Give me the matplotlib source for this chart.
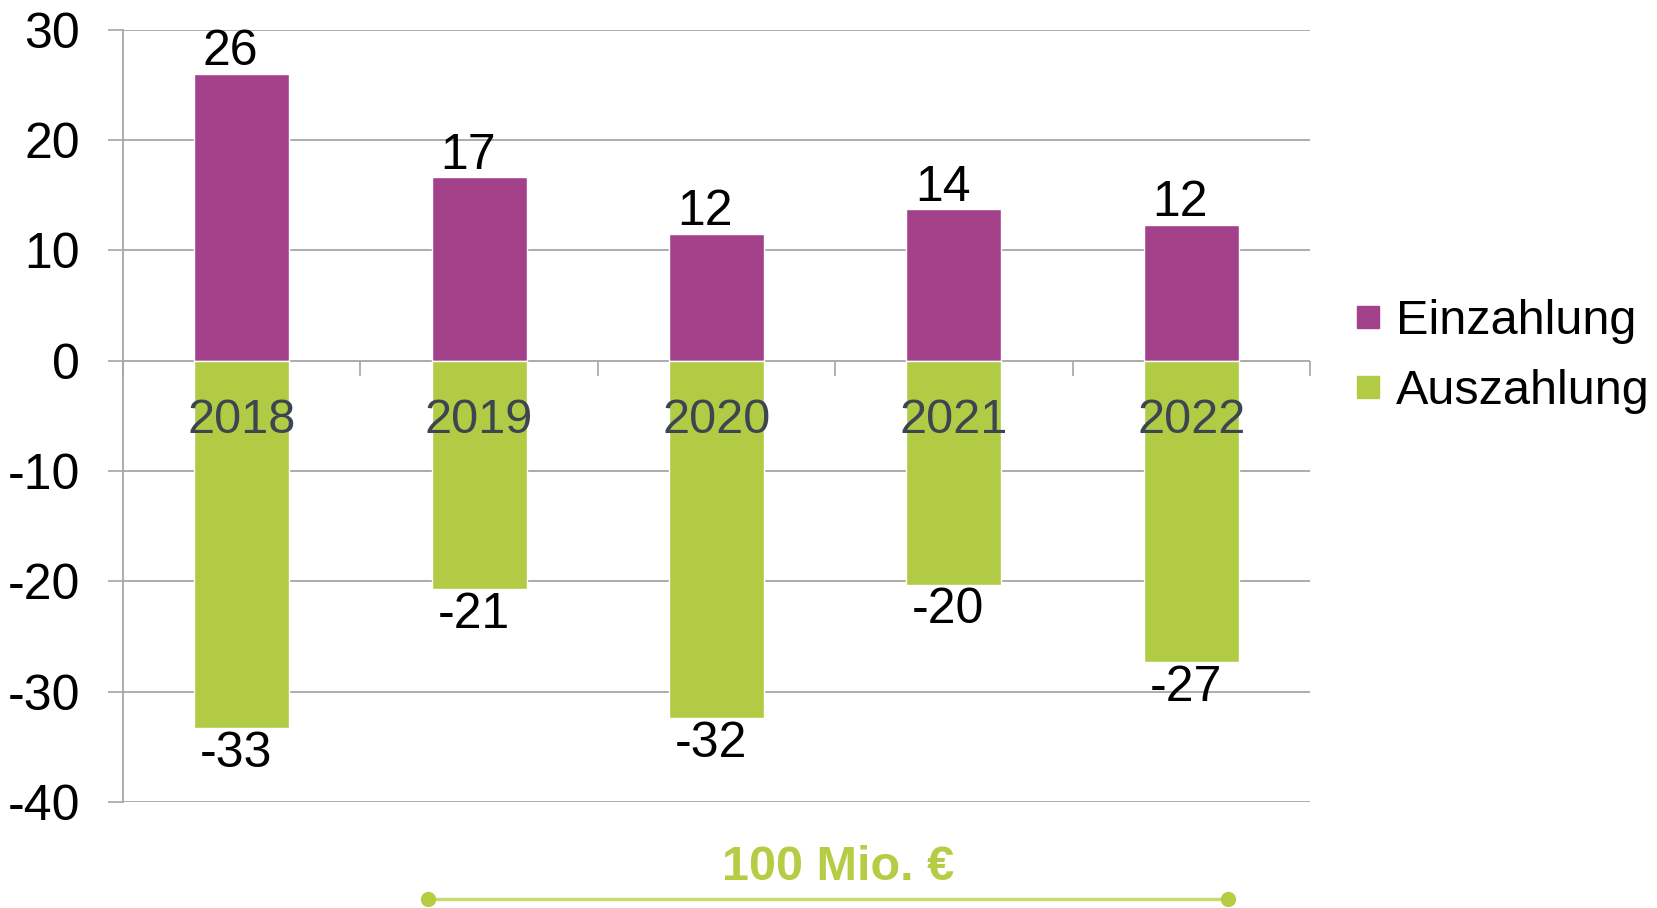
import matplotlib
matplotlib.use('Agg')
import matplotlib.pyplot as plt
from matplotlib.lines import Line2D
from matplotlib.ticker import FixedLocator

# Daten (Mio. €)
jahre = ["2018", "2019", "2020", "2021", "2022"]
einzahlung = [26.0, 16.6, 11.5, 13.7, 12.3]
auszahlung = [-33.3, -20.7, -32.4, -20.3, -27.3]
y_ticks = [30, 20, 10, 0, -10, -20, -30, -40]

lila = "#A4418B"
gruen = "#B1CB45"
grau = "#A6A6A6"
schrift = ["Liberation Sans", "DejaVu Sans"]

plt.rcParams["font.family"] = schrift

fig = plt.figure(figsize=(16.57, 9.08), dpi=100)
ax = fig.add_axes([0.0742, 0.1167, 0.7164, 0.8508])

# Achse zuerst positionieren (setzt sonst die Tick-Einstellungen zurück)
for s in ["top", "right"]:
    ax.spines[s].set_visible(False)
ax.spines["bottom"].set_position(("data", 0))
ax.spines["bottom"].set_visible(False)
ax.spines["left"].set_color(grau)
ax.spines["left"].set_linewidth(1.3)

x = list(range(len(jahre)))
ax.bar(x, einzahlung, width=0.40, color=lila, edgecolor="white", linewidth=1.0, zorder=1)
ax.bar(x, auszahlung, width=0.40, color=gruen, edgecolor="white", linewidth=1.0, zorder=1)

# Beschriftungen der Balken
for xi, v in zip(x, einzahlung):
    ax.annotate(f"{round(v):d}", (xi, v), xytext=(-8, -1), textcoords="offset points",
                ha="center", va="bottom", fontsize=36, color="black")
for xi, v in zip(x, auszahlung):
    ax.annotate(f"{round(v):d}", (xi, v), xytext=(-4, -2), textcoords="offset points",
                ha="center", va="top", fontsize=36, color="black")

ax.set_xlim(-0.5, len(jahre) - 0.5)
ax.set_ylim(-40, 30)
ax.set_yticks(y_ticks)
ax.set_yticklabels([str(t) for t in y_ticks], fontsize=36)

# Gitterlinien hinter den Balken
ax.set_axisbelow(True)
ax.yaxis.grid(True, color=grau, linewidth=1.3)
ax.xaxis.set_zorder(3)

ax.set_xticks(x)
ax.set_xticklabels(jahre, fontsize=35, color="#3B4650")
ax.xaxis.set_minor_locator(FixedLocator([i - 0.5 for i in range(len(jahre) + 1)]))
ax.tick_params(axis="x", which="major", length=0, pad=27)
ax.tick_params(axis="x", which="minor", length=10.8, width=1.2, color=grau, direction="out")
ax.tick_params(axis="y", length=10.8, width=1.2, color=grau, pad=20)

# Legende
handles = [Line2D([], [], marker="s", linestyle="none", markersize=16, color=lila),
           Line2D([], [], marker="s", linestyle="none", markersize=16, color=gruen)]
fig.legend(handles, ["Einzahlung", "Auszahlung"], loc="center left",
           bbox_to_anchor=(0.803, 0.607), frameon=False, fontsize=35,
           handlelength=0.55, handletextpad=0.3, labelspacing=0.52, borderpad=0)

# Maßstab unten
fig.text(0.506, 0.045, "100 Mio. €", ha="center", va="center", fontsize=35,
         fontweight="bold", color="#B5CC45",
         family=["Liberation Sans Narrow", "Liberation Sans", "DejaVu Sans"])
fig.add_artist(Line2D([0.258, 0.741], [0.010, 0.010], transform=fig.transFigure,
                      color="#C8DB74", linewidth=2.5))
fig.add_artist(Line2D([0.258, 0.741], [0.010, 0.010], transform=fig.transFigure,
                      color="#B5CC45", linestyle="none", marker="o", markersize=10))

plt.savefig("out.png", dpi=100)
